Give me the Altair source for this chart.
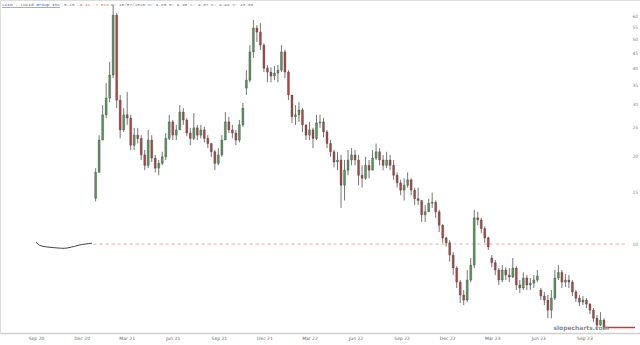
import altair as alt
import pandas as pd

# ---- data (LCID weekly OHLC, log price axis) ----
spac_start = "2020-08-31"
spac_close = [10.15, 9.90, 9.82, 9.78, 9.75, 9.72, 9.70, 9.68, 9.67, 9.70,
              9.76, 9.82, 9.90, 9.96, 10.00, 10.04, 10.07]

candle_start = "2020-12-28"
opens = [14.35, 17.6, 22.7, 27.7, 31.6, 37.9, 60.8, 31.1, 24.6, 27.7,
         27.0, 21.8, 23.6, 23.0, 20.2, 18.6, 22.7, 19.7, 18.2, 18.9,
         19.9, 23.0, 26.2, 23.6, 24.6, 28.3, 26.6, 24.0, 23.0, 25.0,
         23.6, 24.6, 23.0, 22.1, 20.7, 18.9, 20.2, 22.7, 26.2, 24.6,
         24.0, 22.7, 25.6, 34.2, 36.4, 45.5, 54.9, 53.2, 48.0, 40.0,
         38.8, 37.6, 38.5, 39.4, 45.5, 38.8, 32.4, 27.3, 27.7, 28.8,
         25.6, 23.6, 24.6, 23.0, 26.0, 26.2, 24.2, 22.1, 20.7, 19.1,
         19.4, 15.9, 17.9, 19.4, 20.2, 19.4, 17.2, 16.8, 18.6, 17.9,
         19.7, 20.7, 19.4, 18.6, 19.4, 18.6, 17.2, 16.2, 15.3, 15.9,
         16.6, 15.3, 14.3, 14.1, 12.6, 12.9, 13.8, 13.9, 12.9, 11.6,
         10.5, 10.1, 9.17, 8.28, 7.41, 6.69, 6.43, 7.53, 8.47, 12.3,
         12.1, 11.3, 10.5, 8.96, 8.64, 8.15, 7.53, 8.15, 7.83, 7.71,
         8.28, 7.24, 7.07, 7.65, 7.24, 7.35, 7.53, 6.96, 6.64, 6.43,
         5.94, 6.53, 7.65, 8.0, 7.41, 7.53, 7.41, 6.85, 6.53, 6.33,
         6.43, 6.23, 5.94, 5.57, 5.28, 5.49]
highs = [18.2, 23.6, 29.9, 35.6, 42.0, 65.8, 61.8, 32.4, 29.2, 33.2,
         27.7, 25.0, 25.0, 23.6, 21.0, 24.6, 23.6, 20.2, 19.4, 20.7,
         24.0, 27.7, 26.6, 25.6, 29.9, 29.2, 27.0, 25.0, 28.1, 25.6,
         25.6, 25.2, 23.6, 22.1, 21.0, 21.3, 23.6, 28.3, 27.3, 25.6,
         24.6, 26.6, 30.4, 39.4, 48.0, 58.5, 56.2, 57.1, 48.7, 41.0,
         40.3, 40.7, 41.0, 48.0, 46.2, 39.4, 32.4, 29.9, 30.6, 29.2,
         25.6, 26.2, 25.0, 27.7, 27.7, 27.0, 24.6, 22.7, 21.0, 20.7,
         20.2, 19.4, 21.0, 21.3, 21.0, 20.2, 18.6, 19.9, 19.4, 21.0,
         22.1, 21.3, 20.2, 20.7, 20.2, 19.4, 17.6, 16.6, 16.8, 17.6,
         16.8, 15.6, 15.6, 14.1, 13.6, 14.3, 15.0, 14.1, 13.1, 11.7,
         10.6, 10.3, 9.4, 8.4, 7.53, 6.96, 8.15, 8.96, 13.1, 12.9,
         12.3, 11.5, 10.6, 9.17, 8.82, 8.28, 8.47, 8.33, 8.28, 8.96,
         8.4, 7.53, 8.0, 7.83, 7.65, 7.83, 8.15, 7.07, 6.85, 6.69,
         6.96, 8.15, 8.47, 8.15, 7.90, 7.83, 7.53, 6.96, 6.69, 6.64,
         6.53, 6.28, 6.04, 5.71, 5.85, 5.57]
lows = [14.0, 17.6, 22.7, 27.0, 30.6, 37.0, 29.2, 23.0, 24.2, 25.6,
        21.0, 21.0, 22.1, 19.4, 17.9, 18.2, 19.1, 17.6, 17.2, 18.6,
        19.4, 22.7, 22.7, 22.7, 24.6, 25.6, 23.4, 21.8, 22.7, 22.7,
        23.0, 22.3, 21.3, 19.9, 17.9, 18.6, 19.9, 22.7, 24.0, 23.0,
        21.8, 22.3, 25.2, 32.4, 35.8, 43.4, 49.2, 46.2, 38.8, 35.8,
        35.8, 36.4, 35.8, 38.8, 37.0, 31.1, 26.0, 25.6, 26.2, 24.2,
        22.7, 22.7, 21.3, 22.7, 25.0, 23.2, 21.3, 19.9, 18.3, 17.9,
        13.3, 14.1, 17.2, 18.6, 18.6, 15.9, 15.6, 16.6, 16.8, 17.9,
        19.4, 18.6, 17.9, 18.2, 17.9, 16.6, 15.6, 14.7, 14.1, 15.6,
        14.7, 13.6, 13.6, 11.9, 11.9, 12.9, 13.3, 12.3, 11.0, 10.1,
        9.8, 8.7, 7.83, 7.07, 6.28, 6.18, 6.33, 7.41, 8.28, 11.6,
        10.9, 10.1, 9.54, 8.33, 7.83, 7.24, 7.41, 7.53, 7.41, 7.65,
        6.96, 6.80, 6.96, 6.96, 6.96, 7.07, 7.41, 6.43, 6.18, 5.57,
        5.57, 6.43, 7.53, 7.07, 7.13, 7.07, 6.64, 6.33, 6.13, 6.18,
        6.04, 5.76, 5.40, 5.08, 5.24, 5.08]
closes = [17.6, 22.7, 27.7, 31.6, 37.9, 60.8, 31.1, 24.6, 27.7, 27.0,
          21.8, 23.6, 23.0, 20.2, 18.6, 22.7, 19.7, 18.2, 18.9, 19.9,
          23.0, 26.2, 23.6, 24.6, 28.3, 26.6, 24.0, 23.0, 25.0, 23.6,
          24.6, 23.0, 22.1, 20.7, 18.9, 20.2, 22.7, 26.2, 24.6, 24.0,
          22.7, 25.6, 29.2, 36.4, 45.5, 54.9, 53.2, 48.0, 40.0, 38.8,
          37.6, 38.5, 39.4, 45.5, 38.8, 32.4, 27.3, 27.7, 28.8, 25.6,
          23.6, 24.6, 23.0, 26.0, 26.2, 24.2, 22.1, 20.7, 19.1, 19.4,
          15.9, 17.9, 19.4, 20.2, 19.4, 17.2, 16.8, 18.6, 17.9, 19.7,
          20.7, 19.4, 18.6, 19.4, 18.6, 17.2, 16.2, 15.3, 15.9, 16.6,
          15.3, 14.3, 14.1, 12.6, 12.9, 13.8, 13.9, 12.9, 11.6, 10.5,
          10.1, 9.17, 8.28, 7.41, 6.69, 6.43, 7.53, 8.47, 12.3, 12.1,
          11.3, 10.5, 9.77, 8.64, 8.15, 7.53, 8.15, 7.83, 7.71, 8.28,
          7.24, 7.07, 7.65, 7.24, 7.35, 7.53, 7.77, 6.64, 6.43, 5.94,
          6.53, 7.65, 8.0, 7.41, 7.53, 7.41, 6.85, 6.53, 6.33, 6.43,
          6.23, 5.94, 5.57, 5.28, 5.49, 5.18]

ref_level = 10
ref_start = "2020-12-24"
ref_end = "2023-11-24"
axis_end = "2023-12-10"
y_ticks = [10, 15, 20, 25, 30, 35, 40, 45, 50, 55, 60]
x_tick_dates = ["2020-09-01", "2020-12-01", "2021-03-01", "2021-06-01", "2021-09-01",
                "2021-12-01", "2022-03-01", "2022-06-01", "2022-09-01", "2022-12-01",
                "2023-03-01", "2023-06-01", "2023-09-01"]

header_name = "LCID - Lucid Group Inc"
header_last = "5.18"
header_change = "-0.41 -7.02%"
header_rest = "D: 10/07/2020 O: 9.65 H: 9.98 L: 9.67 C: 9.94 V: 43.56"

# ---- tables ----
spac_df = pd.DataFrame({"date": pd.date_range(spac_start, periods=len(spac_close), freq="7D"),
                        "close": spac_close})
cdf = pd.DataFrame({"date": pd.date_range(candle_start, periods=len(closes), freq="7D"),
                    "open": opens, "high": highs, "low": lows, "close": closes})
cdf["dir"] = ["up" if c >= o else "down" for o, c in zip(opens, closes)]
tick_df = pd.DataFrame({"date": pd.to_datetime(x_tick_dates)})

ref_df = pd.DataFrame({"start": [pd.Timestamp(ref_start)], "end": [pd.Timestamp(ref_end)],
                       "level": [ref_level]})
last_df = pd.DataFrame({"start": [cdf["date"].iloc[-1]], "end": [pd.Timestamp(axis_end)],
                        "level": [closes[-1]]})

yscale = alt.Scale(type="log", domain=[4.96, 68.5], nice=False)
xscale = alt.Scale(domain=[alt.DateTime(year=2020, month=6, date=30),
                           alt.DateTime(year=2023, month=12, date=10)])
xaxis = alt.Axis(labels=False, domainColor="#cfcfcf", domainWidth=1.5, ticks=False,
                 grid=False, title=None)
yaxis = alt.Axis(orient="right", values=y_ticks, labelFontSize=4.5, labelColor="#888",
                 labelFont="DejaVu Sans", labelPadding=-8, labelAlign="left",
                 domain=False, ticks=False, grid=False, title=None)

spac_line = alt.Chart(spac_df).mark_line(color="#2a2a2a", strokeWidth=0.9).encode(
    x=alt.X("date:T", scale=xscale, axis=xaxis),
    y=alt.Y("close:Q", scale=yscale, axis=yaxis),
)

x_labels = alt.Chart(tick_df).mark_text(
    font="DejaVu Sans", fontSize=4.5, color="#666666", baseline="middle").encode(
    x="date:T", y=alt.value(339), text=alt.Text("date:T", format="%b %y"))

ref_rule = alt.Chart(ref_df).mark_rule(color="#d9a29d", strokeWidth=0.9, strokeDash=[3, 3]).encode(
    x="start:T", x2="end:T", y="level:Q")

wicks = alt.Chart(cdf).mark_rule(color="#3a3a3a", strokeWidth=0.7).encode(
    x="date:T", y="low:Q", y2="high:Q")

bodies = alt.Chart(cdf).mark_bar(size=2.0, stroke="#333333", strokeWidth=0.3).encode(
    x="date:T", y="open:Q", y2="close:Q",
    color=alt.Color("dir:N", scale=alt.Scale(domain=["up", "down"], range=["#5a935e", "#a24c48"]),
                    legend=None),
)

last_rule = alt.Chart(last_df).mark_rule(color="#e0322c", strokeWidth=1.5).encode(
    x="start:T", x2="end:T", y="level:Q")

wm = alt.Chart(pd.DataFrame({"t": ["slopecharts.com"]})).mark_text(
    font="DejaVu Sans", fontSize=6, fontWeight="bold", color="#8c8c8c", align="right",
    baseline="middle").encode(x=alt.value(609), y=alt.value(328), text="t:N")

mono = "Liberation Mono"
h1 = alt.Chart(pd.DataFrame({"t": [header_name]})).mark_text(
    font=mono, fontSize=4.4, color="#3b5bb5", align="left", baseline="middle").encode(
    x=alt.value(2), y=alt.value(5), text="t:N")
h_ul = alt.Chart(pd.DataFrame({"t": [header_name]})).mark_rule(color="#3b5bb5", strokeWidth=0.5).encode(
    x=alt.value(2), x2=alt.value(60), y=alt.value(7.5))
h2 = alt.Chart(pd.DataFrame({"t": [header_last]})).mark_text(
    font=mono, fontSize=4.4, color="#777777", align="left", baseline="middle").encode(
    x=alt.value(64), y=alt.value(5), text="t:N")
h3 = alt.Chart(pd.DataFrame({"t": [header_change]})).mark_text(
    font=mono, fontSize=4.4, color="#d07060", align="left", baseline="middle").encode(
    x=alt.value(77), y=alt.value(5), text="t:N")
h4 = alt.Chart(pd.DataFrame({"t": [header_rest]})).mark_text(
    font=mono, fontSize=4.4, color="#777777", align="left", baseline="middle").encode(
    x=alt.value(111), y=alt.value(5), text="t:N")

chart = alt.layer(spac_line, ref_rule, wicks, bodies, last_rule, x_labels, wm,
                  h1, h_ul, h2, h3, h4).properties(
    width=640, height=333,
    padding={"left": 0, "top": 0, "right": 0, "bottom": 12},
    autosize=alt.AutoSizeParams(type="none"),
).configure_view(stroke=None).configure(background="white")

chart.save("out.html", embed_options={"renderer": "svg", "actions": False})
